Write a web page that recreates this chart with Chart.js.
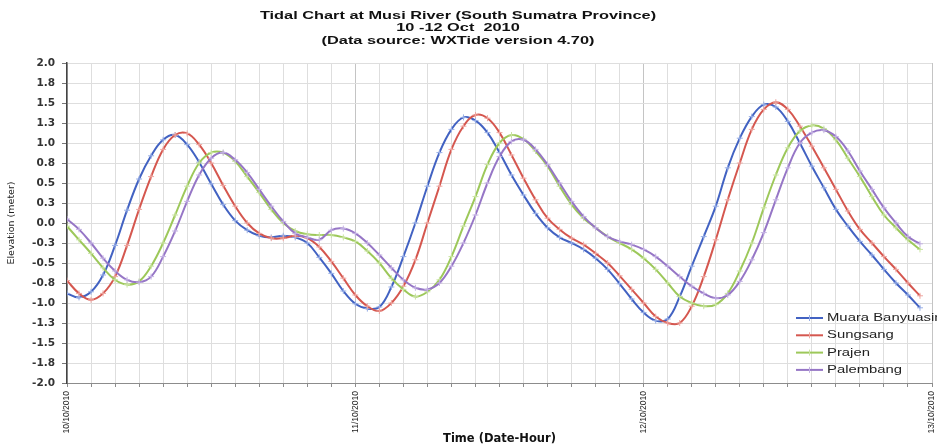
<!DOCTYPE html>
<html>
<head>
<meta charset="utf-8">
<title>Tidal Chart at Musi River</title>
<script src="https://cdn.jsdelivr.net/npm/chart.js@4.4.1/dist/chart.umd.min.js"></script>
<style>
    html, body { margin: 0; padding: 0; background: #fff; }
    #wrap { width: 937px; height: 447px; }
</style>
</head>
<body>
<div id="wrap"><canvas id="tideChart" width="937" height="447"></canvas></div>
<script>
// Hours since 10/10/2010 00:00
const hours = [
    0, 1, 2, 3, 4, 5, 6, 7, 8, 9, 10, 11, 12, 13, 14, 15, 16, 17, 18, 19, 20, 21, 22, 23,
    24, 25, 26, 27, 28, 29, 30, 31, 32, 33, 34, 35, 36, 37, 38, 39, 40, 41, 42, 43, 44, 45, 46, 47,
    48, 49, 50, 51, 52, 53, 54, 55, 56, 57, 58, 59, 60, 61, 62, 63, 64, 65, 66, 67, 68, 69, 70, 71
];
const dayLabels = ['10/10/2010', '11/10/2010', '12/10/2010', '13/10/2010'];
const yTickValues = [-2, -1.75, -1.5, -1.25, -1, -0.75, -0.5, -0.25, 0, 0.25, 0.5, 0.75, 1, 1.25, 1.5, 1.75, 2];
const titleLines = [
    'Tidal Chart at Musi River (South Sumatra Province)',
    '10 -12 Oct  2010',
    '(Data source: WXTide version 4.70)'
];
const seriesNames = ['Muara Banyuasin', 'Sungsang', 'Prajen', 'Palembang'];

// Elevation (meter)
const muaraBanyuasin = [
    -0.88, -0.93, -0.86, -0.65, -0.28, 0.16, 0.55, 0.84, 1.04, 1.10, 0.98, 0.76,
    0.49, 0.23, 0.03, -0.09, -0.16, -0.18, -0.16, -0.18, -0.25, -0.43, -0.63, -0.85,
    -1.01, -1.07, -1.05, -0.80, -0.42, 0.00, 0.46, 0.88, 1.17, 1.32, 1.28, 1.13,
    0.88, 0.60, 0.35, 0.12, -0.06, -0.18, -0.25, -0.33, -0.44, -0.58, -0.76, -0.95,
    -1.12, -1.22, -1.20, -0.92, -0.54, -0.17, 0.21, 0.69, 1.06, 1.33, 1.48, 1.45,
    1.27, 1.00, 0.71, 0.44, 0.17, -0.04, -0.23, -0.40, -0.58, -0.75, -0.90, -1.06
];
const sungsang = [
    -0.72, -0.88, -0.96, -0.88, -0.67, -0.28, 0.17, 0.58, 0.92, 1.10, 1.12, 0.98,
    0.75, 0.47, 0.21, 0.00, -0.13, -0.19, -0.19, -0.16, -0.19, -0.30, -0.48, -0.69,
    -0.90, -1.04, -1.10, -1.00, -0.79, -0.46, 0.00, 0.46, 0.92, 1.21, 1.35, 1.31,
    1.13, 0.85, 0.56, 0.29, 0.06, -0.08, -0.19, -0.27, -0.38, -0.50, -0.66, -0.83,
    -1.00, -1.17, -1.25, -1.25, -1.04, -0.67, -0.21, 0.29, 0.75, 1.17, 1.42, 1.51,
    1.42, 1.21, 0.96, 0.69, 0.42, 0.15, -0.08, -0.25, -0.42, -0.58, -0.75, -0.91
];
const prajen = [
    -0.04, -0.21, -0.38, -0.56, -0.71, -0.77, -0.73, -0.54, -0.25, 0.10, 0.46, 0.75,
    0.88, 0.88, 0.77, 0.58, 0.38, 0.17, 0.00, -0.10, -0.14, -0.15, -0.15, -0.18,
    -0.23, -0.35, -0.50, -0.69, -0.83, -0.92, -0.86, -0.71, -0.42, -0.04, 0.33, 0.73,
    1.00, 1.10, 1.05, 0.90, 0.71, 0.46, 0.23, 0.06, -0.06, -0.17, -0.25, -0.33,
    -0.44, -0.58, -0.75, -0.92, -1.00, -1.04, -1.02, -0.88, -0.60, -0.25, 0.19, 0.60,
    0.94, 1.15, 1.22, 1.18, 1.04, 0.81, 0.58, 0.33, 0.10, -0.06, -0.21, -0.33
];
const palembang = [
    0.05, -0.08, -0.25, -0.44, -0.60, -0.71, -0.74, -0.67, -0.42, -0.10, 0.27, 0.60,
    0.81, 0.88, 0.79, 0.63, 0.42, 0.21, 0.02, -0.13, -0.18, -0.21, -0.09, -0.07,
    -0.13, -0.25, -0.40, -0.56, -0.71, -0.81, -0.83, -0.75, -0.54, -0.25, 0.10, 0.50,
    0.83, 1.02, 1.04, 0.92, 0.73, 0.50, 0.27, 0.08, -0.06, -0.17, -0.23, -0.27,
    -0.33, -0.42, -0.54, -0.67, -0.79, -0.88, -0.94, -0.90, -0.73, -0.46, -0.12, 0.29,
    0.69, 1.00, 1.13, 1.16, 1.08, 0.90, 0.65, 0.42, 0.19, 0.00, -0.17, -0.26
];

const seriesValues = [muaraBanyuasin, sungsang, prajen, palembang];
const lineColors = ['#4262c2', '#d5574f', '#9dc85a', '#9676c6'];
const markColors = ['#97aee6', '#eea6a0', '#c9e3a2', '#c4b2e3'];

function stretchText(c, text, x, y, sx) {
    c.save();
    c.translate(x, y);
    c.scale(sx, 1);
    c.fillText(text, 0, 0);
    c.restore();
}

// Title block and the legend inside the plot
const chartDecor = {
    id: 'chartDecor',
    afterDraw(chart) {
        const c = chart.ctx;
        c.save();
        c.fillStyle = '#111';
        c.textAlign = 'center';
        c.textBaseline = 'middle';
        c.font = 'bold 11.5px "Liberation Sans", Arial, sans-serif';
        titleLines.forEach((t, i) => stretchText(c, t, 458, 16 + i * 12.3, 1.42));

        c.textAlign = 'left';
        c.font = '11px "Liberation Sans", Arial, sans-serif';
        seriesNames.forEach((name, i) => {
            const y = 318 + i * 17.3;
            c.strokeStyle = lineColors[i];
            c.lineWidth = 2;
            c.beginPath();
            c.moveTo(796, y);
            c.lineTo(823, y);
            c.stroke();
            c.strokeStyle = markColors[i];
            c.lineWidth = 1;
            c.beginPath();
            c.moveTo(809.5, y - 3);
            c.lineTo(809.5, y + 3);
            c.stroke();
            c.fillStyle = '#222';
            stretchText(c, name, 827, y, 1.35);
        });
        c.restore();
    }
};

const datasets = seriesValues.map((vals, i) => ({
    label: seriesNames[i],
    data: hours.map((h, k) => ({ x: h, y: vals[k] })),
    borderColor: lineColors[i],
    borderWidth: 2,
    tension: 0.4,
    pointStyle: 'cross',
    pointRadius: 3,
    pointBorderWidth: 1,
    pointBorderColor: markColors[i],
    pointBackgroundColor: markColors[i],
    order: 3 - i
}));

document.addEventListener('DOMContentLoaded', function() {
    const ctx = document.getElementById('tideChart');
    new Chart(ctx, {
        type: 'line',
        data: { datasets: datasets },
        options: {
            responsive: false,
            animation: false,
            layout: { padding: { top: 63, right: 2, left: 0, bottom: 0 } },
            plugins: {
                legend: { display: false },
                title: { display: false },
                tooltip: { enabled: false }
            },
            scales: {
                x: {
                    type: 'linear',
                    min: 0,
                    max: 72,
                    ticks: {
                        stepSize: 2,
                        autoSkip: false,
                        maxRotation: 90,
                        minRotation: 90,
                        padding: 4,
                        color: '#222',
                        font: { family: '"Liberation Sans", Arial, sans-serif', size: 8.5 },
                        callback: function(value) {
                            return value % 24 === 0 ? dayLabels[value / 24] : '';
                        }
                    },
                    grid: {
                        color: function(c) {
                            return c.tick && c.tick.value % 24 === 0 ? '#c4c4c4' : '#dedede';
                        },
                        tickLength: 4,
                        tickColor: '#8c8c8c'
                    },
                    border: { color: '#8c8c8c', width: 1 },
                    title: {
                        display: true,
                        text: 'Time (Date-Hour)',
                        color: '#111',
                        font: { family: '"DejaVu Sans", sans-serif', size: 11.5, weight: 'bold' },
                        padding: { top: 0, bottom: 1 }
                    },
                    afterFit: function(scale) {
                        scale.height = 64;
                        scale.paddingLeft = 0;
                        scale.paddingRight = 0;
                    }
                },
                y: {
                    min: -2,
                    max: 2,
                    afterBuildTicks: function(scale) {
                        scale.ticks = yTickValues.map(v => ({ value: v }));
                    },
                    ticks: {
                        padding: 7,
                        color: '#333',
                        font: { family: '"DejaVu Sans", sans-serif', size: 10.5, weight: 'bold' },
                        callback: function(value) { return value.toFixed(1); }
                    },
                    grid: { color: '#dedede', tickLength: 5, tickColor: '#777' },
                    border: { color: '#444', width: 1.5 },
                    title: {
                        display: true,
                        text: 'Elevation (meter)',
                        color: '#222',
                        font: { family: '"DejaVu Sans", sans-serif', size: 9.5 },
                        padding: { top: 6, bottom: 0 }
                    },
                    afterFit: function(scale) { scale.width = 67; }
                }
            }
        },
        plugins: [chartDecor]
    });
});
</script>
</body>
</html>
